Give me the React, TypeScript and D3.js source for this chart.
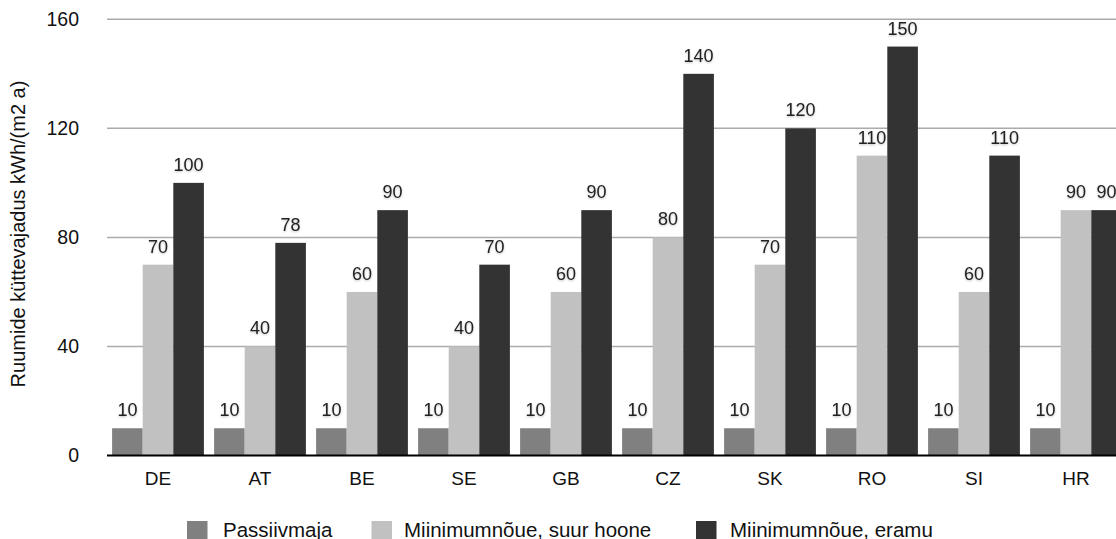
import React from "react";
import * as d3 from "d3";

const categories = ["DE", "AT", "BE", "SE", "GB", "CZ", "SK", "RO", "SI", "HR"];
const seriesNames = ["Passiivmaja", "Miinimumnõue, suur hoone", "Miinimumnõue, eramu"];
const passiivmaja = [10, 10, 10, 10, 10, 10, 10, 10, 10, 10];
const suurHoone = [70, 40, 60, 40, 60, 80, 70, 110, 60, 90];
const eramu = [100, 78, 90, 70, 90, 140, 120, 150, 110, 90];
const yTicks = [0, 40, 80, 120, 160];
const yTitle = "Ruumide küttevajadus kWh/(m2 a)";

const colors = ["#808080", "#c1c1c1", "#333333"];
const W = 1116;
const H = 539;
const FONT = "'Liberation Sans', Arial, Helvetica, sans-serif";

export default function App() {
  const series = [passiivmaja, suurHoone, eramu];
  const x = d3.scaleBand<string>().domain(categories).range([107, 1127]).paddingInner(0.1).paddingOuter(0.05);
  const xi = d3.scaleBand<string>().domain(seriesNames).range([0, x.bandwidth()]).padding(0);
  const y = d3.scaleLinear().domain([0, 160]).range([455.5, 19.3]);

  const legendPos = [
    { sx: 187, tx: 223 },
    { sx: 371.5, tx: 404 },
    { sx: 696, tx: 730 },
  ];

  return (
    <svg width={W} height={H} style={{ position: "fixed", left: 0, top: 0, background: "#fff" }} fontFamily={FONT}>
      <defs>
        <filter id="glow" x="-20%" y="-20%" width="140%" height="160%">
          <feGaussianBlur in="SourceAlpha" stdDeviation="1.2" result="b" />
          <feOffset dy="1" in="b" result="o" />
          <feComponentTransfer in="o" result="s">
            <feFuncA type="linear" slope="0.25" />
          </feComponentTransfer>
          <feMerge>
            <feMergeNode in="s" />
            <feMergeNode in="SourceGraphic" />
          </feMerge>
        </filter>
      </defs>
      {yTicks.filter((t) => t !== 0).map((t) => (
        <line key={"g" + t} x1={107} x2={W} y1={y(t)} y2={y(t)} stroke="#ababab" strokeWidth={1.5} />
      ))}
      {yTicks.map((t) => (
        <text key={"t" + t} x={79} y={y(t)} dy="0.35em" textAnchor="end" fontSize={19.5} fill="#111">
          {t}
        </text>
      ))}
      <text transform={`translate(25,${234}) rotate(-90)`} textAnchor="middle" fontSize={20} fill="#111">
        {yTitle}
      </text>
      {categories.map((c, ci) => (
        <g key={c}>
          {series.map((s, si) => {
            const bx = (x(c) as number) + (xi(seriesNames[si]) as number);
            const bw = xi.bandwidth();
            return (
              <rect key={si} x={bx} y={y(s[ci])} width={bw} height={y(0) - y(s[ci])} fill={colors[si]} />
            );
          })}
          {series.map((s, si) => {
            const bx = (x(c) as number) + (xi(seriesNames[si]) as number);
            const bw = xi.bandwidth();
            return (
              <text key={"l" + si} x={bx + bw / 2} y={y(s[ci]) - 12} textAnchor="middle" fontSize={18} fill="#222" filter="url(#glow)">
                {s[ci]}
              </text>
            );
          })}
          <text x={(x(c) as number) + x.bandwidth() / 2} y={485} textAnchor="middle" fontSize={19} fill="#111">
            {c}
          </text>
        </g>
      ))}
      <line x1={107} x2={W} y1={y(0)} y2={y(0)} stroke="#000" strokeWidth={2.2} />
      {seriesNames.map((n, i) => (
        <g key={n}>
          <rect x={legendPos[i].sx} y={521} width={20.5} height={20.5} fill={colors[i]} />
          <text x={legendPos[i].tx} y={536.5} fontSize={20.5} fill="#111">
            {n}
          </text>
        </g>
      ))}
    </svg>
  );
}
